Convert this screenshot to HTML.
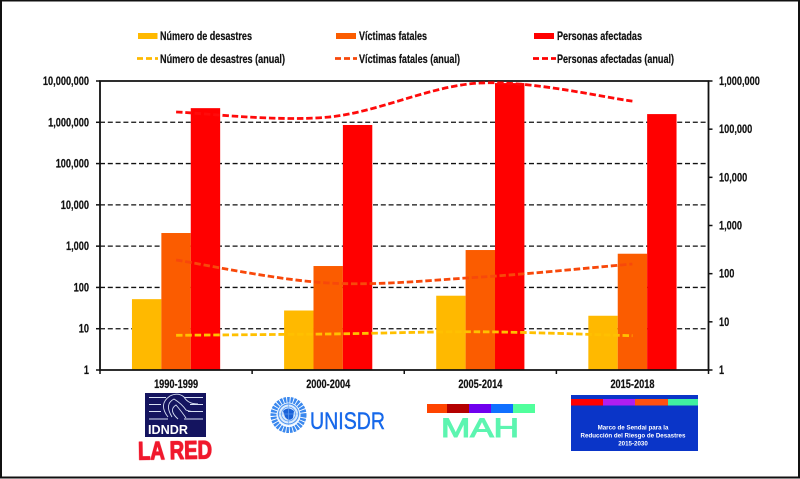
<!DOCTYPE html>
<html lang="es">
<head>
<meta charset="utf-8">
<title>Desastres por decenio</title>
<style>
html,body{margin:0;padding:0;background:#fff;}
#chart{display:block;width:800px;height:479px;}
text{font-family:"Liberation Sans",Arial,sans-serif;font-weight:bold;fill:#111;}
#labels text,#legend text{stroke:#111;stroke-width:0.2;}
.soft{filter:blur(0.35px);}
</style>
</head>
<body>
<svg id="chart" xmlns="http://www.w3.org/2000/svg" width="800" height="479" viewBox="0 0 800 479">
  <rect x="0" y="0" width="800" height="479" fill="#fff"/>
  <g id="grid"></g>
  <g id="bars"></g>
  <g id="axes"></g>
  <g id="lines"></g>
  <g id="labels"></g>

  <g id="legend" font-size="11.5">
    <g>
      <rect x="138" y="33" width="19.5" height="6" fill="#ffb900"/>
      <text x="160" y="40" textLength="92" lengthAdjust="spacingAndGlyphs">Número de desastres</text>
    </g>
    <g>
      <rect x="336" y="33" width="20" height="6" fill="#fb5c00"/>
      <text x="359" y="40" textLength="68" lengthAdjust="spacingAndGlyphs">Víctimas fatales</text>
    </g>
    <g>
      <rect x="534" y="33" width="20" height="6" fill="#ff0000"/>
      <text x="557" y="40" textLength="85" lengthAdjust="spacingAndGlyphs">Personas afectadas</text>
    </g>
    <g>
      <line x1="137" y1="58.5" x2="158" y2="58.5" stroke="#ffb900" stroke-width="2.8" stroke-dasharray="6 3"/>
      <text x="160" y="63" textLength="125" lengthAdjust="spacingAndGlyphs">Número de desastres (anual)</text>
    </g>
    <g>
      <line x1="335" y1="58.5" x2="357" y2="58.5" stroke="#f8480a" stroke-width="2.8" stroke-dasharray="6 3"/>
      <text x="359" y="63" textLength="101" lengthAdjust="spacingAndGlyphs">Víctimas fatales (anual)</text>
    </g>
    <g>
      <line x1="533" y1="58.5" x2="556" y2="58.5" stroke="#ff0000" stroke-width="2.8" stroke-dasharray="6 3"/>
      <text x="557" y="63" textLength="117" lengthAdjust="spacingAndGlyphs">Personas afectadas (anual)</text>
    </g>
  </g>

  <g class="soft">
    <rect x="145" y="393" width="61" height="44" fill="#14145f"/>
    <g stroke="#d8e0f4" stroke-width="0.9" fill="none">
      <path d="M149 397.5H166M184 397.5H203"/>
      <path d="M149 404.5H161M190 404.5H203"/>
      <path d="M149 411.5H161M188 411.5H203"/>
      <path d="M149 419H168M184 419H203"/>
      <path d="M168 417Q158 404 170 396Q178 392 184 397Q188 404 198 404"/>
      <path d="M172 417Q164 404 174 399Q182 404 186 410Q190 412 198 411.5"/>
      <path d="M178 419Q168 410 176 405Q182 412 186 418"/>
    </g>
    <text x="148" y="434" font-size="12.5" style="fill:#fff" textLength="40" lengthAdjust="spacingAndGlyphs">IDNDR</text>
  </g>
  <text class="soft" x="138" y="459" font-size="25" transform="rotate(-1 175 450)" style="fill:#f0182c;stroke:#f0182c;stroke-width:1.2;stroke-linejoin:round" textLength="74" lengthAdjust="spacingAndGlyphs">LA RED</text>

  <g class="soft">
    <circle cx="288.5" cy="415" r="15" fill="none" stroke="#3a88ee" stroke-width="6" stroke-dasharray="2.4 0.9"/>
    <circle cx="288.5" cy="414" r="11.5" fill="#dcebfc"/>
    <circle cx="288.5" cy="414" r="10" fill="none" stroke="#3f8cf0" stroke-width="0.9"/>
    <circle cx="288.5" cy="414" r="7" fill="none" stroke="#5a9cf2" stroke-width="0.8"/>
    <path d="M283 411Q288 406 294 411L293 418Q289 422 285 417Z" fill="#1a62d8"/>
    <path d="M288.5 403V425M277.5 414H299.5" stroke="#6aa6f4" stroke-width="0.6"/>
    <text x="310" y="429" font-size="24" style="fill:#1668ea;stroke:#1668ea;stroke-width:0.4;font-weight:normal" textLength="75" lengthAdjust="spacingAndGlyphs">UNISDR</text>
  </g>

  <g class="soft">
    <rect x="427" y="404" width="20" height="9" fill="#ff4400"/>
    <rect x="447" y="404" width="22" height="9" fill="#b40000"/>
    <rect x="469" y="404" width="22" height="9" fill="#7000ee"/>
    <rect x="491" y="404" width="22" height="9" fill="#1070ff"/>
    <rect x="513" y="404" width="22" height="9" fill="#50ff9c"/>
    <text x="441" y="437" font-size="27" style="fill:#5cf5b0;stroke:#5cf5b0;stroke-width:1.1;font-weight:normal" textLength="78" lengthAdjust="spacingAndGlyphs">MAH</text>
  </g>

  <g class="soft">
    <rect x="571" y="395" width="127" height="56" fill="#0a35c8"/>
    <rect x="571" y="399" width="32" height="6.5" fill="#ff0000"/>
    <rect x="603" y="399" width="32" height="6.5" fill="#b01ef0"/>
    <rect x="635" y="399" width="33" height="6.5" fill="#ff5010"/>
    <rect x="668" y="399" width="30" height="6.5" fill="#40f0a0"/>
    <g font-size="6.2" text-anchor="middle">
      <text x="633" y="429.5" style="fill:#fff">Marco de Sendai para la</text>
      <text x="633" y="437.5" style="fill:#fff">Reducción del Riesgo de Desastres</text>
      <text x="633" y="445.5" style="fill:#fff">2015-2030</text>
    </g>
  </g>

  <rect x="1" y="0.5" width="798" height="477" fill="none" stroke="#111" stroke-width="2"/>
</svg>
<script>
const categories = ["1990-1999", "2000-2004", "2005-2014", "2015-2018"];
const numeroDesastres = [52, 27.6, 63, 20.6];
const victimasFatales = [2080, 330, 805, 655];
const personasAfectadas = [2200000, 860000, 8900000, 1580000];
const numeroDesastresAnual = [5.25, 5.6, 6.2, 5.15];
const victimasFatalesAnual = [192, 64, 85, 159];
const personasAfectadasAnual = [227000, 178000, 910000, 383000];
const leftTicks = [1, 10, 100, 1000, 10000, 100000, 1000000, 10000000];
const rightTicks = [1, 10, 100, 1000, 10000, 100000, 1000000];

const NS = "http://www.w3.org/2000/svg";
const plotLeft = 100, plotRight = 708.5, plotTop = 81, plotBottom = 370;
const leftDecades = 7, rightDecades = 6;
const barWidth = 29.4;
const colors = { numero: "#ffb900", victimas: "#fb5c00", personas: "#ff0000" };
const lineColors = { numero: "#ffc000", victimas: "#f8480a", personas: "#ff0a0a" };

function yLeft(v) { return plotBottom - Math.log10(v) / leftDecades * (plotBottom - plotTop); }
function yRight(v) { return plotBottom - Math.log10(v) / rightDecades * (plotBottom - plotTop); }
function bandWidth() { return (plotRight - plotLeft) / categories.length; }
function xCenter(i) { return plotLeft + bandWidth() * (i + 0.5); }
function fmt(v) { return v.toLocaleString("en-US"); }
function mk(tag, parent, attrs) {
  const el = document.createElementNS(NS, tag);
  for (const k in attrs) el.setAttribute(k, attrs[k]);
  parent.appendChild(el);
  return el;
}
const gGrid = document.getElementById("grid");
const gBars = document.getElementById("bars");
const gAxes = document.getElementById("axes");
const gLines = document.getElementById("lines");
const gLabels = document.getElementById("labels");

function squeezedText(str, x, y, anchor, factor, size) {
  const t = mk("text", gLabels, { x: x, y: y, "font-size": size, "text-anchor": anchor });
  t.textContent = str;
  const w = t.getComputedTextLength();
  t.setAttribute("textLength", (w * factor).toFixed(1));
  t.setAttribute("lengthAdjust", "spacingAndGlyphs");
  return t;
}

leftTicks.forEach(function (v) {
  const y = yLeft(v);
  if (v > 1 && v < 10000000) {
    const g = mk("line", gGrid, { x1: plotLeft, x2: plotRight, y1: y, y2: y, stroke: "#111", "stroke-width": 1.3, "stroke-dasharray": "5 2.8" });
    
    
  }
  const tick = mk("line", gAxes, { x1: plotLeft - 4, x2: plotLeft, y1: y, y2: y, stroke: "#111", "stroke-width": 1.5 });
  
  
  const lab = squeezedText(fmt(v), 89, y + 4, "end", 0.8, 11.5);
  
  
});

rightTicks.forEach(function (v) {
  const y = yRight(v);
  const tick = mk("line", gAxes, { x1: plotRight, x2: plotRight + 4, y1: y, y2: y, stroke: "#111", "stroke-width": 1.5 });
  
  
  const lab = squeezedText(fmt(v), 719, y + 4, "start", 0.8, 11.5);
  
  
});

categories.forEach(function (c, i) {
  const cx = xCenter(i);
  const series = [
    [numeroDesastres[i], colors.numero, -1.5],
    [victimasFatales[i], colors.victimas, -0.5],
    [personasAfectadas[i], colors.personas, 0.5]
  ];
  series.forEach(function (s) {
    const top = yLeft(s[0]);
    const b = mk("rect", gBars, { x: cx + s[2] * barWidth, y: top, width: barWidth, height: plotBottom - top, fill: s[1] });
    
    
  });
  const lab = squeezedText(c, cx, 388, "middle", 0.8, 11.5);
  
  
});

const axisPath = mk("path", gAxes, {
  d: "M" + plotLeft + " " + plotBottom + "V" + plotTop + "H" + plotRight + "V" + plotBottom + "Z",
  fill: "none", stroke: "#111", "stroke-width": 1.8
});



for (let i = 0; i <= categories.length; i++) {
  const x = plotLeft + bandWidth() * i;
  const t = mk("line", gAxes, { x1: x, x2: x, y1: plotBottom, y2: plotBottom + 4, stroke: "#111", "stroke-width": 1.5 });
  
  
}

function smoothPath(values) {
  const pts = values.map(function (v, i) { return [xCenter(i), yRight(v)]; });
  let d = "M" + pts[0][0].toFixed(1) + " " + pts[0][1].toFixed(1);
  for (let i = 0; i < pts.length - 1; i++) {
    const p0 = pts[Math.max(0, i - 1)], p1 = pts[i], p2 = pts[i + 1], p3 = pts[Math.min(pts.length - 1, i + 2)];
    const c1x = p1[0] + (p2[0] - p0[0]) / 6, c1y = p1[1] + (p2[1] - p0[1]) / 6;
    const c2x = p2[0] - (p3[0] - p1[0]) / 6, c2y = p2[1] - (p3[1] - p1[1]) / 6;
    d += "C" + c1x.toFixed(1) + " " + c1y.toFixed(1) + " " + c2x.toFixed(1) + " " + c2y.toFixed(1) + " " + p2[0].toFixed(1) + " " + p2[1].toFixed(1);
  }
  return d;
}

const numeroLine = mk("path", gLines, { d: smoothPath(numeroDesastresAnual), fill: "none", stroke: lineColors.numero, "stroke-width": 2.8, "stroke-dasharray": "6.5 2.8" });


const victimasLine = mk("path", gLines, { d: smoothPath(victimasFatalesAnual), fill: "none", stroke: lineColors.victimas, "stroke-width": 2.8, "stroke-dasharray": "6.5 2.8" });


const personasLine = mk("path", gLines, { d: smoothPath(personasAfectadasAnual), fill: "none", stroke: lineColors.personas, "stroke-width": 2.8, "stroke-dasharray": "6.5 2.8" });


</script>
</body>
</html>
